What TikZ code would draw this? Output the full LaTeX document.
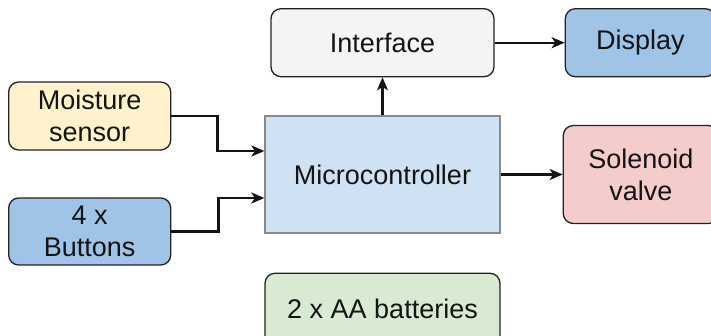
\documentclass[tikz,border=0pt]{standalone}
\usepackage{fontspec}
\setmainfont{Liberation Sans}
\usetikzlibrary{arrows.meta, positioning, calc}
\definecolor{ink}{RGB}{20, 20, 20}
\definecolor{edge}{RGB}{34, 34, 34}
\definecolor{mcuedge}{RGB}{138, 138, 138}
\definecolor{ifacebg}{RGB}{243, 244, 246}
\definecolor{bluebg}{RGB}{160, 196, 232}
\definecolor{yellowbg}{RGB}{255, 242, 204}
\definecolor{mcubg}{RGB}{207, 226, 243}
\definecolor{redbg}{RGB}{244, 204, 204}
\definecolor{greenbg}{RGB}{217, 234, 211}
\tikzset{
    font=\fontsize{27}{32}\selectfont,
    block/.style={rectangle, rounded corners=10pt, draw=edge, line width=1.3pt, text=ink, align=center, inner sep=0pt},
    mcu/.style={rectangle, draw=mcuedge, fill=mcubg, line width=1.3pt, text=ink, align=center, inner sep=0pt, minimum width=235pt, minimum height=117pt},
    arrow/.style={-{Stealth[length=13pt, width=11pt, inset=3.5pt]}, line width=2.4pt, color=ink}
}
\begin{document}
\begin{tikzpicture}[x=1pt, y=1pt]

    % Frame
    \clip (0,0) rectangle (711,-335);

    % Core
    \node (micro) [mcu] at (382.5,-174.5) {Microcontroller};

    % Top row
    \node (iface) [block, fill=ifacebg, above=38pt of micro, minimum width=223pt, minimum height=68pt] {Interface};
    \node (display) [block, fill=bluebg, right=70pt of iface, minimum width=150pt, minimum height=68pt] {Display};

    % Inputs
    \node (moist) [block, fill=yellowbg, left=93pt of micro, yshift=58.5pt, minimum width=162pt, minimum height=68pt] {Moisture\\sensor};
    \node (buttons) [block, fill=bluebg, left=93pt of micro, yshift=-57pt, minimum width=162pt, minimum height=67pt] {4 x\\Buttons};

    % Outputs
    \node (valve) [block, fill=redbg, right=62pt of micro, minimum width=155pt, minimum height=98pt] {Solenoid\\valve};

    % Power
    \node (power) [block, fill=greenbg, below=39pt of micro, minimum width=235pt, minimum height=80pt] {\raisebox{9pt}{2 x AA batteries}};

    % Connectors
    \coordinate (moistIn) at ($(micro.west)+(0,23.5pt)$);
    \coordinate (btnIn) at ($(micro.west)+(0,-23.5pt)$);
    \draw [arrow] (moist.east) -- ++(46pt,0) |- (moistIn);
    \draw [arrow] (buttons.east) -- ++(47pt,0) |- (btnIn);
    \draw [arrow] (micro.north -| iface.south) -- (iface.south);
    \draw [arrow] (iface.east) -- (display.west);
    \draw [arrow] (micro.east) -- (valve.west);

\end{tikzpicture}
\end{document}
